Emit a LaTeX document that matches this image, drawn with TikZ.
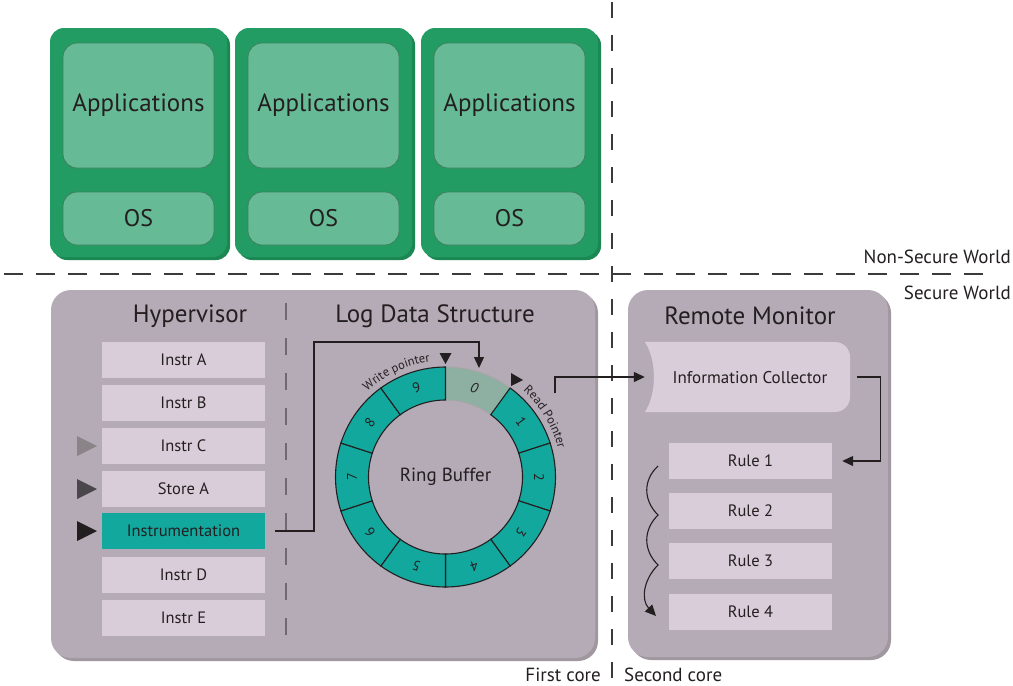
\documentclass[tikz,border=0pt]{standalone}
\usepackage{fontspec}
\setmainfont{PT Sans}
\usetikzlibrary{arrows.meta,decorations.text,shadows}

\definecolor{greenout}{HTML}{229C62}
\definecolor{greenshadow}{HTML}{1B8752}
\definecolor{greenin}{HTML}{67BA96}
\definecolor{greenline}{HTML}{3F7F5F}
\definecolor{mauve}{HTML}{B5ABB7}
\definecolor{mauveshadow}{HTML}{A1979F}
\definecolor{lilac}{HTML}{D9CDDA}
\definecolor{tealseg}{HTML}{13A89E}
\definecolor{zeroseg}{HTML}{8DB0A3}
\definecolor{ink}{HTML}{231F20}
\definecolor{dashgray}{HTML}{3B3B3B}
\definecolor{sepgray}{HTML}{6F6772}
\definecolor{markC}{HTML}{8A8489}
\definecolor{markS}{HTML}{4B464B}

\newcommand\setfs[1]{\fontsize{#1}{#1}\selectfont}

\begin{document}
\begin{tikzpicture}[x=1pt,y=-1pt,
  every node/.style={text=ink, inner sep=0pt},
  vmouter/.style={fill=greenout, rounded corners=14pt, minimum width=177pt, minimum height=229pt,
    general shadow={fill=greenshadow, shadow xshift=3pt, shadow yshift=-3pt}},
  vmpart/.style={fill=greenin, draw=greenline, line width=0.8pt, rounded corners=14pt, minimum width=151pt},
  bigbox/.style={fill=mauve, rounded corners=20pt,
    general shadow={fill=mauveshadow, shadow xshift=3pt, shadow yshift=-3pt}},
  title/.style={font=\setfs{25}},
  instrbox/.style={fill=lilac, minimum width=163pt, minimum height=36pt, font=\setfs{16.5}},
  worlddash/.style={draw=dashgray, line width=1.5pt},
  conn/.style={draw=ink, line width=1.3pt},
  tip/.style={-{Triangle[length=11pt,width=10pt]}},
  ringline/.style={draw=ink, line width=1.1pt},
  label/.style={font=\setfs{19}}
]
\useasboundingbox (0,0) rectangle (1013,686);

% world and core separators
\draw[worlddash, dash pattern=on 19pt off 13pt] (4,274) -- (992,274);
\draw[worlddash, dash pattern=on 16pt off 17pt] (612,2) -- (612,686);

% normal-world virtual machines
\foreach \cx/\n in {138.5/1, 323.5/2, 509.5/3} {
  \node[vmouter] (vm\n) at (\cx,142.5) {};
  \node[vmpart, minimum height=125pt, font=\setfs{25}] (app\n) at (\cx,105.5) {Applications};
  \node[vmpart, minimum height=53pt, font=\setfs{24}] (os\n) at (\cx,218.5) {OS};
}

\node[label, anchor=east] (nsw) at (1011,257) {Non-Secure World};
\node[label, anchor=east] (sw) at (1011,293) {Secure World};

% secure world containers
\node[bigbox, minimum width=544pt, minimum height=368pt] (hv) at (323,474) {};
\node[bigbox, minimum width=260pt, minimum height=367pt] (rm) at (758,473.5) {};

\node[title] (hvtitle) at (190,316) {Hypervisor};
\node[title] (ldtitle) at (435,316) {Log Data Structure};
\node[title] (rmtitle) at (750,316) {Remote Monitor};

\draw[sepgray, line width=1.3pt, dash pattern=on 17pt off 18pt] (286,303) -- (286,636);

% instruction stream
\node[instrbox] (iA) at (183.5,360) {Instr A};
\node[instrbox] (iB) at (183.5,403) {Instr B};
\node[instrbox] (iC) at (183.5,446) {Instr C};
\node[instrbox] (sA) at (183.5,489) {Store A};
\node[instrbox, fill=tealseg] (instr) at (183.5,531) {Instrumentation};
\node[instrbox] (iD) at (183.5,575) {Instr D};
\node[instrbox] (iE) at (183.5,618) {Instr E};

\fill[markC] (77,436) -- (97,446) -- (77,456) -- cycle;
\fill[markS] (77,479) -- (97,489) -- (77,499) -- cycle;
\fill[ink]   (77,521) -- (97,531) -- (77,541) -- cycle;

% ring buffer
\begin{scope}[shift={(445.5,477)}, y=1pt]
  \draw[draw=gray!70, line width=1.1pt, fill=zeroseg] (90:77) -- (90:110)
    arc[start angle=90, end angle=54, radius=110] -- (54:77)
    arc[start angle=54, end angle=90, radius=77] -- cycle;
  \node[font=\setfs{14}\itshape, rotate=-18] (d0) at (72:93.5) {0};
  \foreach \k in {1,...,9} {
    \pgfmathsetmacro\a{90-36*\k}
    \pgfmathsetmacro\b{\a-36}
    \pgfmathsetmacro\m{\a-18}
    \draw[ringline, fill=tealseg] (\a:77) -- (\a:110)
      arc[start angle=\a, end angle=\b, radius=110] -- (\b:77)
      arc[start angle=\b, end angle=\a, radius=77] -- cycle;
    \node[font=\setfs{14}, rotate=\m-90] (d\k) at (\m:93.5) {\k};
  }
  \node[font=\setfs{19}] (rb) at (0,0) {Ring Buffer};

  % pointers
  \fill[ink] (-6,124) -- (6,124) -- (0,113) -- cycle;
  \fill[ink] (65.5,104) -- (77.5,97) -- (65.5,91) -- cycle;
  \path[decorate, decoration={text along path, text color=ink, text align=center,
      text={|\setfs{12.5}|Write pointer}}]
    (136:116) arc[start angle=136, end angle=94, radius=116];
  \path[decorate, decoration={text along path, text color=ink, text align=center,
      text={|\setfs{12.5}|Read Pointer}}]
    (54:116) arc[start angle=54, end angle=8, radius=116];

  \coordinate (slot0) at (33.5,109);
  \coordinate (rstart) at (109.5,84);
\end{scope}

% remote monitor contents
\node[minimum width=205pt, minimum height=70pt] (ic) at (747.5,377) {};
\fill[lilac] (ic.south west) .. controls (657,394) and (657,360) .. (ic.north west)
  -- (835,342) arc[start angle=-90, end angle=0, radius=15] -- (850,397)
  arc[start angle=0, end angle=90, radius=15] -- cycle;
\node[font=\setfs{17}] (ictext) at (750,378) {Information Collector};

\node[instrbox] (r1) at (750.5,461) {Rule 1};
\node[instrbox] (r2) at (750.5,511) {Rule 2};
\node[instrbox] (r3) at (750.5,561) {Rule 3};
\node[instrbox] (r4) at (750.5,612) {Rule 4};

% data flow
\coordinate (bend) at (314,342);
\draw[conn, tip] ([xshift=10pt]instr.east) -| (bend) -| (slot0);
\draw[conn, tip] (rstart) |- (ic.west);
\draw[conn, tip] ([xshift=7pt]ic.east) -- ++(23,0) |- ([xshift=10pt]r1.east);
\coordinate (wstart) at (658,466);
\coordinate (wend) at (656,616);
\draw[conn, line width=1.1pt, tip] (wstart) .. controls (643,480) and (643,500) .. (658,515)
  .. controls (643,530) and (643,550) .. (658,565)
  .. controls (643,580) and (641,600) .. (wend);

% core labels
\node[label, anchor=east] (fc) at (601,675) {First core};
\node[label, anchor=west] (scl) at (624,675) {Second core};
\end{tikzpicture}
\end{document}
